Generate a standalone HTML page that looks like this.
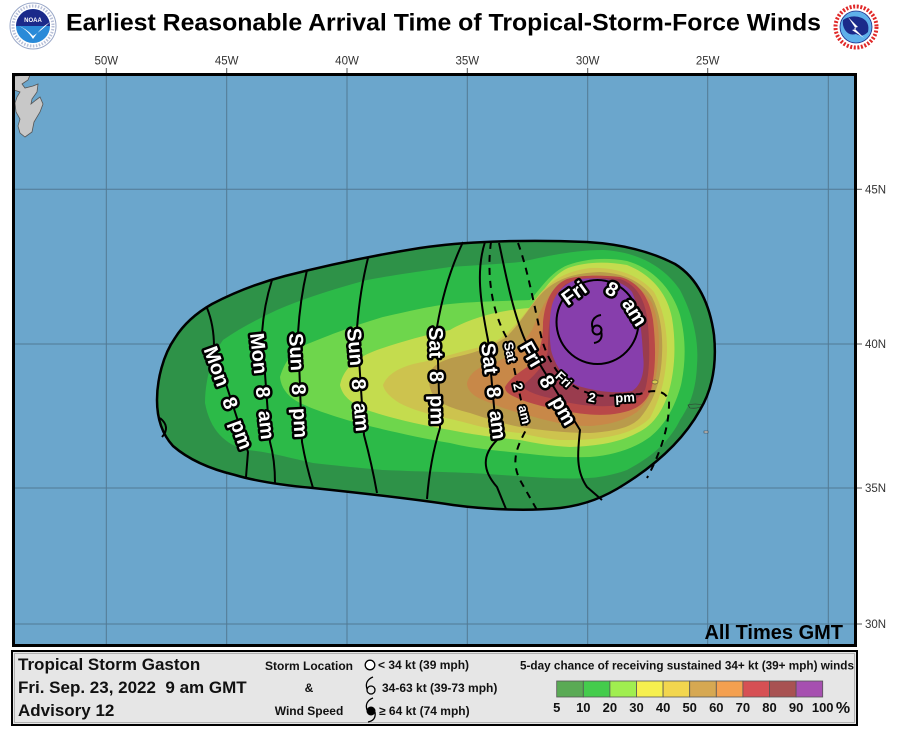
<!DOCTYPE html>
<html><head><meta charset="utf-8"><style>
html,body{margin:0;padding:0;background:#fff;}
svg{display:block;font-family:"Liberation Sans",Arial,sans-serif;}
.lab{font-weight:bold;font-size:20px;fill:#fff;stroke:#000;stroke-width:5px;paint-order:stroke;stroke-linejoin:round;}
.sl{font-weight:bold;font-size:13px;fill:#fff;stroke:#000;stroke-width:4px;paint-order:stroke;stroke-linejoin:round;}
.ax{font-size:11.5px;fill:#333;}
.cl{fill:none;stroke:#000;stroke-width:2;stroke-linejoin:round;}
.dl{fill:none;stroke:#000;stroke-width:2;stroke-dasharray:7,6;}
.lg{font-weight:bold;fill:#111;}
</style></head><body>
<svg width="897" height="736" viewBox="0 0 897 736">
<defs><clipPath id="mc"><rect x="14" y="75" width="841" height="570"/></clipPath></defs>
<rect width="897" height="736" fill="#fff"/>

<!-- NOAA logo -->
<circle cx="33" cy="26" r="23" fill="#fff" stroke="#9aa8c8" stroke-width="1"/>
<circle cx="33" cy="26" r="20" fill="none" stroke="#b8c0d8" stroke-width="3" stroke-dasharray="1.5,1.5"/>
<circle cx="33" cy="26" r="17" fill="#2a8ad8"/>
<path d="M16,26 A17,17 0 0 1 50,26 Z" fill="#1b2a8a"/>
<path d="M16,25 Q26,28 33,39 Q40,28 50,22 Q41,31 33,36 Q26,28 16,25 Z" fill="#fff"/>
<text x="33" y="22" font-size="6" font-weight="bold" fill="#fff" text-anchor="middle">NOAA</text>

<!-- NWS logo -->
<circle cx="856" cy="27" r="24" fill="#fff"/>
<circle cx="856" cy="27" r="20.5" fill="none" stroke="#e02828" stroke-width="4" stroke-dasharray="2,1.6"/>
<circle cx="856" cy="27" r="16" fill="#5fb0ea" stroke="#1b2a8a" stroke-width="0.8"/>
<path d="M843,20 Q852,14 862,18 Q870,22 868,32 Q862,38 856,34 Q849,36 845,30 Q842,25 843,20 Z" fill="#1b2a8a"/>
<path d="M848,17 L858,27 L854,28 L864,38 L852,30 L856,29 Z" fill="#fff"/>

<!-- Title -->
<text x="66" y="30.5" font-size="24.5" font-weight="bold" fill="#000" textLength="755" lengthAdjust="spacingAndGlyphs">Earliest Reasonable Arrival Time of Tropical-Storm-Force Winds</text>

<!-- top axis labels and ticks -->
<g stroke="#555" stroke-width="1">
<line x1="106.3" y1="68" x2="106.3" y2="75"/><line x1="226.7" y1="68" x2="226.7" y2="75"/>
<line x1="347" y1="68" x2="347" y2="75"/><line x1="467.3" y1="68" x2="467.3" y2="75"/>
<line x1="587.7" y1="68" x2="587.7" y2="75"/><line x1="707.7" y1="68" x2="707.7" y2="75"/>
<line x1="855" y1="189.3" x2="862" y2="189.3"/><line x1="855" y1="344" x2="862" y2="344"/>
<line x1="855" y1="488" x2="862" y2="488"/><line x1="855" y1="624" x2="862" y2="624"/>
</g>
<g class="ax" text-anchor="middle">
<text x="106.3" y="64.5">50W</text><text x="226.7" y="64.5">45W</text><text x="347" y="64.5">40W</text>
<text x="467.3" y="64.5">35W</text><text x="587.7" y="64.5">30W</text><text x="707.7" y="64.5">25W</text>
</g>
<g class="ax">
<text x="865" y="193.5">45N</text><text x="865" y="348">40N</text><text x="865" y="492">35N</text><text x="865" y="628">30N</text>
</g>

<!-- Map -->
<g clip-path="url(#mc)">
<rect x="14" y="75" width="841" height="570" fill="#6ba6cc"/>
<polygon points="13,76 30,75 28,80 22,84 25,88 33,86 38,84 37,92 32,99 31,104 36,100 40,97 43,104 40,112 34,122 32,132 25,137 20,133 18,126 20,119 16,112 15,103 17,97 20,92 14,90" fill="#c8c8c8" stroke="#555" stroke-width="0.8"/>
<g stroke="#4d6e86" stroke-width="1" opacity="0.8">
<line x1="106.3" y1="75" x2="106.3" y2="645"/><line x1="226.7" y1="75" x2="226.7" y2="645"/>
<line x1="347" y1="75" x2="347" y2="645"/><line x1="467.3" y1="75" x2="467.3" y2="645"/>
<line x1="587.7" y1="75" x2="587.7" y2="645"/><line x1="707.7" y1="75" x2="707.7" y2="645"/>
<line x1="828.3" y1="75" x2="828.3" y2="645"/>
<line x1="14" y1="189.3" x2="855" y2="189.3"/><line x1="14" y1="344" x2="855" y2="344"/>
<line x1="14" y1="488" x2="855" y2="488"/><line x1="14" y1="624" x2="855" y2="624"/>
</g>

<!-- probability fills -->
<path d="M157,400 C157,380 163,355 175,338 C185,322 198,312 212,304 C235,292 258,283 285,276 C320,267 370,256 420,248 C460,242 520,239 587,242 C620,244 650,251 675,264 C698,278 710,305 714,335 C717,365 712,390 700,410 C685,437 660,462 625,484 C605,497 585,505 560,508 C530,511 490,510 453,505 C420,500 370,494 313,488 C280,485 255,481 235,475 C210,469 188,459 173,446 C162,434 157,418 157,400 Z" fill="#2e9248"/>
<path d="M205,403 C205,380 212,355 223,340 C240,328 260,318 277,310 C300,300 330,290 367,280 C400,274 430,270 450,267 C480,265 500,264 520,262 C540,258 570,250 603,250 C640,252 665,268 680,290 C693,315 699,340 697,365 C696,390 690,405 680,420 C670,440 655,455 627,470 C610,476 595,478 587,478 C560,480 520,476 487,474 C460,472 430,472 383,470 C350,467 330,465 313,463 C290,458 270,452 247,450 C225,445 210,430 205,403 Z" fill="#2cba48"/>
<path d="M280,377 C285,360 295,348 310,343 C330,335 350,327 383,317 C410,311 430,306 450,304 C480,301 510,301 530,300 C540,290 550,272 568,265 C585,259 605,257 627,261 C652,268 672,288 680,315 C686,338 686,362 681,385 C675,407 665,425 650,437 C635,448 615,455 590,457 C560,458 540,455 520,453 C490,450 470,448 450,443 C420,438 385,430 357,423 C330,415 315,410 300,403 C288,397 281,388 280,377 Z" fill="#6ed64c"/>
<path d="M340,385 C343,370 355,358 377,350 C400,342 425,335 450,330 C470,318 500,310 530,308 C540,297 550,276 568,268 C585,262 605,261 627,265 C650,274 667,292 672,318 C676,342 675,367 670,387 C665,407 655,425 637,433 C620,442 600,446 570,447 C550,446 535,443 520,440 C490,437 470,434 450,430 C420,425 390,418 367,410 C350,403 342,395 340,385 Z" fill="#c4dc4e"/>
<path d="M383,385 C388,372 405,365 423,362 C445,357 465,350 485,346 C505,340 520,320 533,303 C545,285 560,272 590,268 C618,267 640,276 654,292 C664,310 667,330 667,350 C666,375 662,395 650,418 C640,428 625,434 607,437 C590,440 575,440 560,440 C540,438 530,435 520,433 C490,430 475,425 455,420 C430,415 405,408 395,400 C388,395 384,390 383,385 Z" fill="#cdc34e"/>
<path d="M430,373 C433,364 445,359 460,356 C478,352 492,346 505,338 C520,325 530,305 543,292 C558,278 575,273 600,272 C625,273 643,283 652,297 C661,315 663,335 662,355 C661,380 655,400 640,418 C630,428 615,431 590,433 C565,433 540,430 520,427 C500,423 485,418 470,413 C455,409 440,405 433,395 C429,388 428,380 430,373 Z" fill="#b99b4b"/>
<path d="M467,383 C470,372 480,366 493,363 C510,358 522,345 532,330 C540,312 548,292 562,282 C577,276 592,275 607,276 C628,278 643,288 652,303 C659,320 660,340 658,360 C656,385 650,400 637,412 C625,420 610,425 590,426 C565,426 545,420 527,415 C510,411 495,405 483,400 C473,396 467,390 467,383 Z" fill="#c88848"/>
<path d="M505,387 C510,378 520,372 530,365 C540,355 543,340 543,322 C545,300 553,285 567,279 C582,275 600,275 620,277 C640,282 650,300 653,320 C656,345 656,370 651,390 C645,405 635,410 620,413 C600,417 580,414 560,410 C540,406 525,402 515,397 C508,394 505,391 505,387 Z" fill="#b94848"/>
<path d="M522,386 C533,377 545,366 548,350 C548,320 552,296 566,284 C580,278 600,277 620,279 C638,285 646,302 648,325 C650,350 650,372 645,390 C638,401 625,405 610,406 C590,407 570,404 550,398 C536,395 526,391 522,386 Z" fill="#9a3c4e"/>
<path d="M552,305 C556,292 565,282 580,279 C600,277 622,279 632,292 C640,310 642,335 643,355 C645,370 642,385 632,391 C615,394 595,391 578,386 C565,380 555,366 551,350 C549,335 549,318 552,305 Z" fill="#873eac"/>

<!-- islands -->
<path d="M688,405 Q695,403 703,405 Q700,409 690,408 Z" fill="#2e9248" stroke="#333" stroke-width="0.6"/>
<rect x="704" y="431" width="4" height="2" fill="#ccc" stroke="#333" stroke-width="0.5"/>
<ellipse cx="655" cy="382" rx="3" ry="2" fill="#d8c850" stroke="#333" stroke-width="0.5"/>

<!-- outline stroke -->
<path d="M157,400 C157,380 163,355 175,338 C185,322 198,312 212,304 C235,292 258,283 285,276 C320,267 370,256 420,248 C460,242 520,239 587,242 C620,244 650,251 675,264 C698,278 710,305 714,335 C717,365 712,390 700,410 C685,437 660,462 625,484 C605,497 585,505 560,508 C530,511 490,510 453,505 C420,500 370,494 313,488 C280,485 255,481 235,475 C210,469 188,459 173,446 C162,434 157,418 157,400 Z" fill="none" stroke="#000" stroke-width="2.5"/>

<!-- contour lines -->
<path class="cl" d="M207,308 Q214,325 214,347 L248,452 Q247,465 246,477"/>
<path class="cl" d="M272,280 Q264,305 262,333 L270,442 Q275,460 275,483"/>
<path class="cl" d="M307,270 Q300,300 298,333 L302,442 Q306,465 313,488"/>
<path class="cl" d="M368,258 Q360,290 357,328 L364,435 Q372,465 377,493"/>
<path class="cl" d="M463,242 Q445,280 437,327 L440,428 Q430,460 427,499"/>
<path class="cl" d="M485,242 C476,270 480,300 488,340 L497,440 C482,455 482,470 497,487 L506,509"/>
<path class="dl" d="M491,242 C487,270 490,310 508,340 L527,428 C518,445 510,460 520,480 L537,510"/>
<path class="cl" d="M499,243 C505,270 512,310 525,340 L580,430 C578,450 575,470 587,487 L602,500"/>
<path class="dl" d="M518,243 C528,270 535,310 542,340 Q548,360 560,375 Q580,395 605,396 L640,394 Q662,386 669,400 Q670,435 647,478"/>
<path class="cl" d="M160,418 Q171,427 162,437"/>
<ellipse cx="597.5" cy="322" rx="41" ry="42" class="cl"/>

<!-- storm symbol -->
<g fill="none" stroke="#000" stroke-width="2">
<circle cx="597" cy="330" r="4.5"/>
<path d="M593,329 C590,322 594,316 601,315"/>
<path d="M601,331 C603,338 600,342 594,343"/>
</g>

<!-- contour labels -->
<g transform="translate(210,347) rotate(70)"><text class="lab" x="0" y="7">Mon</text><text class="lab" x="54" y="7">8</text><text class="lab" x="78" y="7">pm</text></g>
<g transform="translate(257,333) rotate(84)"><text class="lab" x="0" y="7">Mon</text><text class="lab" x="54" y="7">8</text><text class="lab" x="78" y="7">am</text></g>
<g transform="translate(296,333) rotate(87)"><text class="lab" x="0" y="7">Sun</text><text class="lab" x="51" y="7">8</text><text class="lab" x="75" y="7">pm</text></g>
<g transform="translate(354,328) rotate(85)"><text class="lab" x="0" y="7">Sun</text><text class="lab" x="51" y="7">8</text><text class="lab" x="75" y="7">am</text></g>
<g transform="translate(436,327) rotate(89)"><text class="lab" x="0" y="7">Sat</text><text class="lab" x="44" y="7">8</text><text class="lab" x="68" y="7">pm</text></g>
<g transform="translate(488,343) rotate(83)"><text class="lab" x="0" y="7">Sat</text><text class="lab" x="44" y="7">8</text><text class="lab" x="68" y="7">am</text></g>
<g transform="translate(525,343) rotate(60)"><text class="lab" x="0" y="7">Fri</text><text class="lab" x="39" y="7">8</text><text class="lab" x="63" y="7">pm</text></g>
<g transform="translate(508,340) rotate(77)"><text class="sl" x="2" y="5">Sat</text><text class="sl" x="44" y="5">2</text><text class="sl" x="67" y="5">am</text></g>
<text class="sl" transform="translate(564,379) rotate(42)" text-anchor="middle" y="5">Fri</text>
<text class="sl" transform="translate(592,397) rotate(10)" text-anchor="middle" y="5">2</text>
<text class="sl" transform="translate(625,397) rotate(-3)" text-anchor="middle" y="5">pm</text>
<text class="lab" transform="translate(574,293) rotate(-36)" text-anchor="middle" y="7">Fri</text>
<text class="lab" transform="translate(612,289) rotate(28)" text-anchor="middle" y="7">8</text>
<text class="lab" transform="translate(635,312) rotate(58)" text-anchor="middle" y="7">am</text>

<text x="843" y="639" font-size="20" font-weight="bold" fill="#000" text-anchor="end">All Times GMT</text>
</g>
<rect x="13.5" y="74.5" width="842" height="571" fill="none" stroke="#000" stroke-width="3"/>

<!-- Legend box -->
<rect x="12" y="651" width="845" height="74" fill="#e6e6e6" stroke="#000" stroke-width="2"/>
<rect x="14.5" y="653.5" width="840" height="69" fill="none" stroke="#999" stroke-width="0.7"/>
<text class="lg" x="18" y="670" font-size="17">Tropical Storm Gaston</text>
<text class="lg" x="18" y="693" font-size="17" xml:space="preserve">Fri. Sep. 23, 2022  9 am GMT</text>
<text class="lg" x="18" y="716" font-size="17">Advisory 12</text>
<g class="lg" font-size="12" text-anchor="middle">
<text x="309" y="670">Storm Location</text>
<text x="309" y="692">&amp;</text>
<text x="309" y="715">Wind Speed</text>
</g>
<circle cx="370" cy="665" r="4.8" fill="#fff" stroke="#000" stroke-width="1.3"/>
<g fill="none" stroke="#000" stroke-width="1.3">
<circle cx="371" cy="690" r="4"/>
<path d="M367,689 C365,683 368,679 373,677"/>
</g>
<circle cx="371" cy="711" r="4.5" fill="#000"/>
<path d="M367,710 C365,704 368,700 373,698 M375,712 C376,718 373,721 368,722" fill="none" stroke="#000" stroke-width="1.3"/>
<g class="lg" font-size="12">
<text x="378" y="669">&lt; 34 kt (39 mph)</text>
<text x="382" y="692">34-63 kt (39-73 mph)</text>
<text x="379" y="715">≥ 64 kt (74 mph)</text>
</g>
<text class="lg" x="520" y="669.5" font-size="12" textLength="334" lengthAdjust="spacingAndGlyphs">5-day chance of receiving sustained 34+ kt (39+ mph) winds</text>
<g stroke="#555" stroke-width="0.8">
<rect x="556.7" y="681" width="26.6" height="16" fill="#5aaa55"/>
<rect x="583.3" y="681" width="26.6" height="16" fill="#44cc4c"/>
<rect x="609.9" y="681" width="26.6" height="16" fill="#a0ee50"/>
<rect x="636.5" y="681" width="26.6" height="16" fill="#f6f04e"/>
<rect x="663.1" y="681" width="26.6" height="16" fill="#f2d64e"/>
<rect x="689.7" y="681" width="26.6" height="16" fill="#d6a852"/>
<rect x="716.3" y="681" width="26.6" height="16" fill="#f4a050"/>
<rect x="742.9" y="681" width="26.6" height="16" fill="#d65054"/>
<rect x="769.5" y="681" width="26.6" height="16" fill="#a85252"/>
<rect x="796.1" y="681" width="26.6" height="16" fill="#a650b0"/>
</g>
<g class="lg" font-size="13" text-anchor="middle">
<text x="556.7" y="712">5</text><text x="583.3" y="712">10</text><text x="609.9" y="712">20</text>
<text x="636.5" y="712">30</text><text x="663.1" y="712">40</text><text x="689.7" y="712">50</text>
<text x="716.3" y="712">60</text><text x="742.9" y="712">70</text><text x="769.5" y="712">80</text>
<text x="796.1" y="712">90</text><text x="822.7" y="712">100</text>
</g>
<text class="lg" x="843" y="713" font-size="16" text-anchor="middle">%</text>
</svg>
</body></html>
